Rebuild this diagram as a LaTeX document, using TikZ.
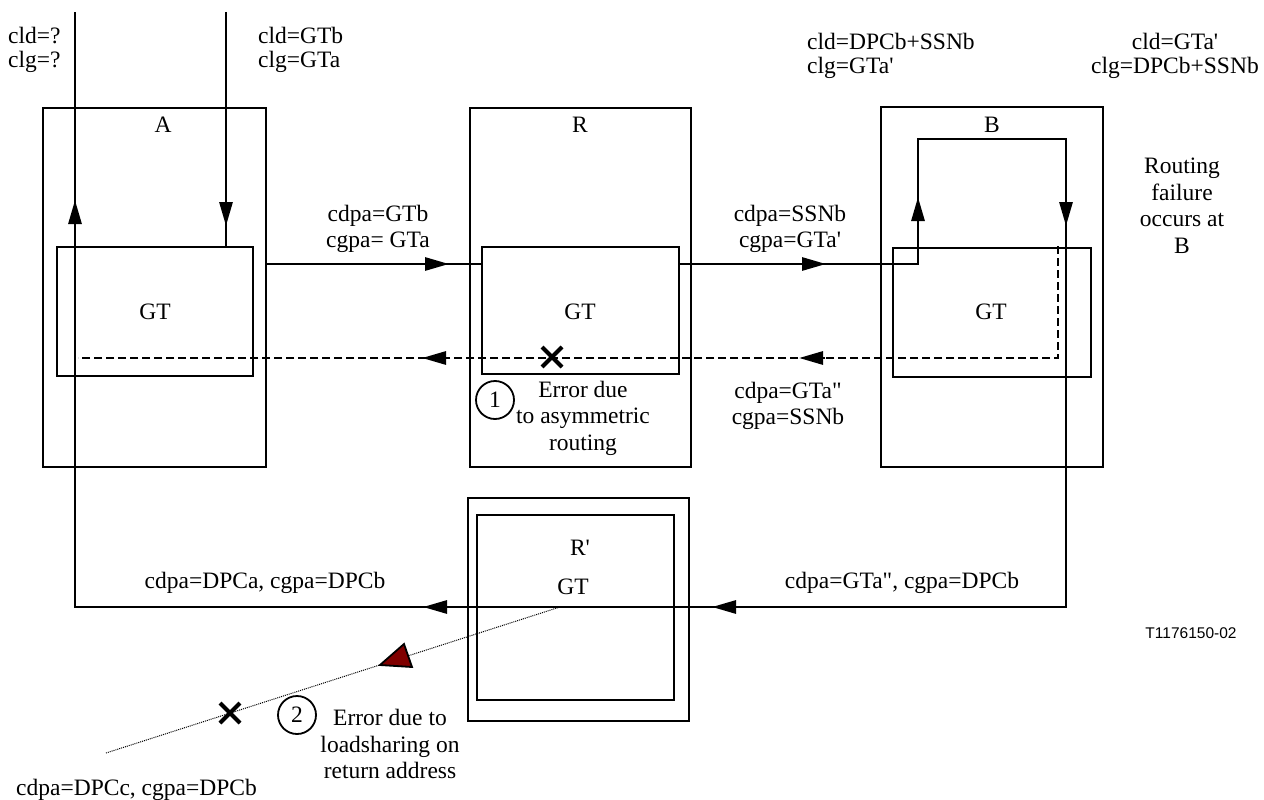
\documentclass[tikz,border=0pt]{standalone}
\usepackage{fontspec}
\setmainfont{Liberation Serif}
\newfontfamily\labsans{Liberation Sans}
\usetikzlibrary{arrows.meta,calc}
\newcommand{\sq}{\textquotesingle}
\newcommand{\dq}{\textquotedbl}
\begin{document}
\begin{tikzpicture}[x=1pt,y=-1pt,
  rectbox/.style={draw, line width=1.8pt, inner sep=0pt},
  sig/.style={line width=2.9pt},
  tipst/.style={line width=2.9pt, -{Triangle[length=24pt,width=13pt]}},
  dashln/.style={line width=2.8pt, dash pattern=on 8pt off 4pt},
  lab/.style={font=\fontsize{23.5}{26.5}\selectfont, inner sep=0pt, align=center},
  toplab/.style={font=\fontsize{23.5}{24.5}\selectfont, inner sep=0pt},
  xmark/.style={line width=4pt},
  numcirc/.style={draw, circle, line width=1.8pt, minimum size=38pt, inner sep=0pt, font=\fontsize{23.5}{26}\selectfont}
]
\useasboundingbox (0,0) rectangle (1264,800);

% boxes
\node[rectbox, minimum width=223pt, minimum height=359pt] (A) at (154.5,287.5) {};
\node[rectbox, minimum width=196pt, minimum height=129pt] (AGT) at (155,311.5) {};
\node[rectbox, minimum width=221pt, minimum height=359pt] (R) at (580.5,287.5) {};
\node[rectbox, minimum width=197pt, minimum height=127pt] (RGT) at (580.5,310.5) {};
\node[rectbox, minimum width=222pt, minimum height=360pt] (B) at (992,287) {};
\node[rectbox, minimum width=198pt, minimum height=129pt] (BGT) at (992,312.5) {};
\node[rectbox, minimum width=221pt, minimum height=223pt] (Rp) at (578.5,609.5) {};
\node[rectbox, minimum width=197pt, minimum height=185pt] (RpGT) at (575.5,607.5) {};

% box labels
\node[lab] (Alab) at (163,125) {A};
\node[lab] (Rlab) at (580,125) {R};
\node[lab] (Blab) at (992,125) {B};
\node[lab] (AGTlab) at (155,312) {GT};
\node[lab] (RGTlab) at (580,312) {GT};
\node[lab] (BGTlab) at (991,312) {GT};
\node[lab] (Rplab) at (580,548) {R\sq};
\node[lab] (RpGTlab) at (573,587) {GT};

% coordinates of the signal path
\coordinate (inTop) at (226,12);
\coordinate (inEnd) at (226,247);
\coordinate (outTop) at (75,12);
\coordinate (a1) at (266,264);
\coordinate (a2) at (482,264);
\coordinate (r1) at (679,264);
\coordinate (b1) at (918,264);
\coordinate (b2) at (918,139);
\coordinate (b3) at (1066,139);
\coordinate (b4) at (1066,607);
\coordinate (c1) at (75,607);

% solid signal paths
\draw[sig] (inTop) -- (inEnd);
\draw[sig] (a1) -- (a2);
\draw[sig, line join=miter] (r1) -- (b1) -- (b2) -- (b3) -- (b4) -- (c1) -- (outTop);

% arrowheads
\draw[tipst] (226,200) -- (226,226);
\draw[tipst] (75,225) -- (75,200);
\draw[tipst] (424,264) -- (449,264);
\draw[tipst] (800,264) -- (826,264);
\draw[tipst] (918,222) -- (918,197);
\draw[tipst] (1066,200) -- (1066,226);
\draw[tipst] (738,607) -- (712,607);
\draw[tipst] (451,607) -- (423,607);

% dashed return path
\coordinate (d1) at (1058,246);
\coordinate (d2) at (1058,358);
\coordinate (d3) at (78,358);
\draw[dashln] (d1) -- (d2) -- (d3);
\draw[tipst] (448,358) -- (422,358);
\draw[tipst] (825,358) -- (799,358);

% error mark 1
\coordinate (x1) at (552,357);
\draw[xmark] ($(x1)+(-10,-10)$) -- ($(x1)+(10,10)$);
\draw[xmark] ($(x1)+(-10,10)$) -- ($(x1)+(10,-10)$);
\node[numcirc] (n1) at (495,400) {1};
\node[lab] (err1) at (583,418) {Error due\\to asymmetric\\routing};

% dotted misrouted path
\coordinate (p1) at (560,607);
\coordinate (p2) at (106,753);
\draw[line width=1pt, dash pattern=on 1pt off 1pt] (p1) -- (p2);
\draw[line width=1.8pt, fill={rgb,255:red,128;green,0;blue,0}, line join=miter] (380,665) -- (404,644) -- (412,667) -- cycle;
\coordinate (x2) at (230,713);
\draw[xmark] ($(x2)+(-10,-10)$) -- ($(x2)+(10,10)$);
\draw[xmark] ($(x2)+(-10,10)$) -- ($(x2)+(10,-10)$);
\node[numcirc] (n2) at (297,715) {2};
\node[lab] (err2) at (390,744) {Error due to\\loadsharing on\\return address};

% parameter labels
\node[toplab, anchor=west, align=left] (l1) at (8,50) {cld=?\\clg=?};
\node[toplab, anchor=west, align=left] (l2) at (258,50) {cld=GTb\\clg=GTa};
\node[toplab, anchor=west, align=left] (l3) at (807,56) {cld=DPCb+SSNb\\clg=GTa\sq};
\node[toplab, align=center] (l4) at (1175,56) {cld=GTa\sq\\clg=DPCb+SSNb};
\node[lab] (l5) at (378,229) {cdpa=GTb\\cgpa= GTa};
\node[lab] (l6) at (790,229) {cdpa=SSNb\\cgpa=GTa\sq};
\node[lab] (l7) at (1182,206) {Routing\\failure\\occurs at\\B};
\node[lab] (l8) at (788,406) {cdpa=GTa\dq\\cgpa=SSNb};
\node[lab] (l9) at (265,583) {cdpa=DPCa, cgpa=DPCb};
\node[lab] (l10) at (902,583) {cdpa=GTa\dq, cgpa=DPCb};
\node[lab, anchor=west] (l11) at (16,790) {cdpa=DPCc, cgpa=DPCb};
\node[font=\labsans\fontsize{15.5}{18}\selectfont, inner sep=0pt] (fig) at (1191,633) {T1176150-02};
\end{tikzpicture}
\end{document}
